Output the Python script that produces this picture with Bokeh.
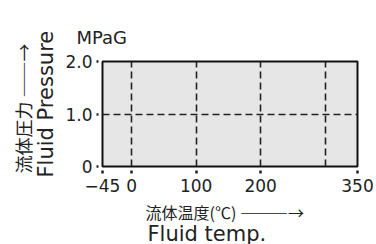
from bokeh.plotting import figure
from bokeh.models import FixedTicker, Title, Range1d
from bokeh.embed import file_html
from bokeh.resources import INLINE

# ---- data ----
x_min, x_max = -45, 350
y_min, y_max = 0, 2
x_ticks = [-45, 0, 100, 200, 350]
x_tick_labels = ["\u221245", "0", "100", "200", "350"]
y_ticks = [0, 1, 2]
y_tick_labels = ["0", "1.0", "2.0"]
x_grid_lines = [0, 100, 200, 300]
y_grid_lines = [1]
y_unit = "MPaG"
y_label_jp = "流体圧力 ――→"
y_label_en = "Fluid Pressure"
x_label_jp = "流体温度(℃) ―――→"
x_label_en = "Fluid temp."

FONT = "DejaVu Sans"
CJK = "Noto Sans CJK JP"
INK = "#222222"

p = figure(width=376, height=244, output_backend="svg", toolbar_location=None,
           x_range=Range1d(x_min, x_max), y_range=Range1d(y_min, y_max),
           min_border_left=102, min_border_right=19, min_border_top=61, min_border_bottom=78)
p.background_fill_color = "#e6e6e6"
p.border_fill_color = "white"
p.outline_line_color = "#111111"
p.outline_line_width = 2

# grid
p.xgrid.ticker = FixedTicker(ticks=x_grid_lines)
p.ygrid.ticker = FixedTicker(ticks=y_grid_lines)
for g in (p.xgrid, p.ygrid):
    g.grid_line_color = INK
    g.grid_line_width = 1.6
    g.grid_line_dash = "7 4"

# axes
p.xaxis.ticker = FixedTicker(ticks=x_ticks)
p.yaxis.ticker = FixedTicker(ticks=y_ticks)
p.xaxis.major_label_overrides = {t: l for t, l in zip(x_ticks, x_tick_labels)}
p.yaxis.major_label_overrides = {t: l for t, l in zip(y_ticks, y_tick_labels)}
for ax in (p.xaxis, p.yaxis):
    ax.axis_line_color = None
    ax.minor_tick_line_color = None
    ax.major_tick_line_color = INK
    ax.major_tick_line_width = 2.5
    ax.major_label_text_font = FONT
    ax.major_label_text_font_size = "17px"
    ax.major_label_text_color = INK
p.xaxis.major_tick_in = -4
p.xaxis.major_tick_out = 7
p.xaxis.major_label_standoff = 5
p.yaxis.major_tick_in = -4
p.yaxis.major_tick_out = 6
p.yaxis.major_label_standoff = 4

# unit label on top
p.title.text = y_unit
p.title.align = "left"
p.title.offset = -26
p.title.standoff = 28
p.title.text_font = FONT
p.title.text_font_size = "18px"
p.title.text_font_style = "normal"
p.title.text_color = INK

# y-axis titles (left side, read bottom to top)
p.add_layout(Title(text=y_label_en, align="left", offset=-11, standoff=9,
                   text_font=FONT, text_font_size="21px", text_font_style="normal",
                   text_color=INK), "left")
p.add_layout(Title(text=y_label_jp, align="left", offset=-7, standoff=-16,
                   text_font=CJK, text_font_size="18px", text_font_style="normal",
                   text_color=INK), "left")

# x-axis titles (below)
p.add_layout(Title(text=x_label_jp, align="left", offset=43, standoff=7,
                   text_font=CJK, text_font_size="16px", text_font_style="normal",
                   text_color=INK), "below")
p.add_layout(Title(text=x_label_en, align="left", offset=45, standoff=-16,
                   text_font=FONT, text_font_size="21px", text_font_style="normal",
                   text_color=INK), "below")

open("out.html", "w").write(file_html(p, INLINE))
